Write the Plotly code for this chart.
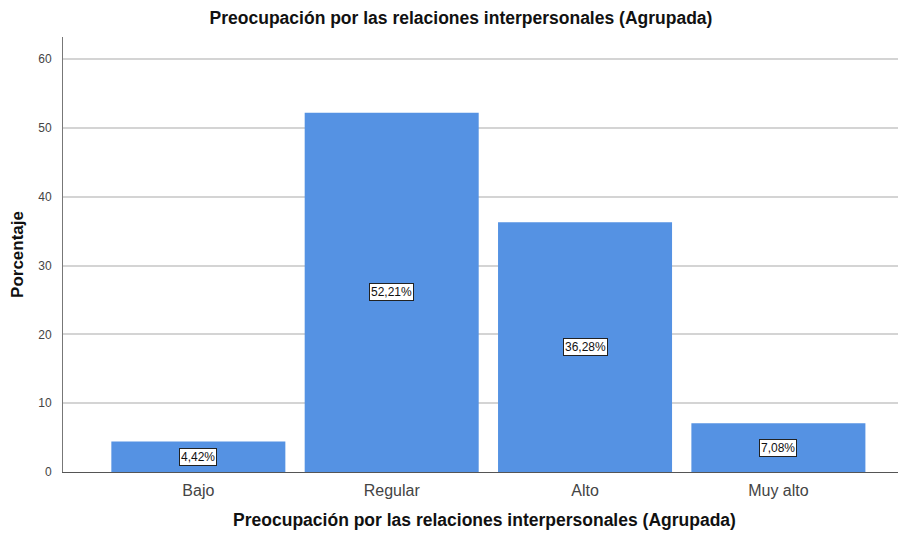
import plotly.graph_objects as go

categorias = ["Bajo", "Regular", "Alto", "Muy alto"]
porcentajes = [4.42, 52.21, 36.28, 7.08]
etiquetas = ["4,42%", "52,21%", "36,28%", "7,08%"]
ticks_y = [0, 10, 20, 30, 40, 50, 60]

FONT = "Liberation Sans, Arial, sans-serif"

fig = go.Figure()
fig.add_trace(go.Bar(
    x=list(range(len(categorias))),
    y=porcentajes,
    width=0.9,
    marker=dict(color="#5592E3", line=dict(width=0)),
    hoverinfo="skip",
))

# etiquetas en el centro de cada barra
for i, (v, t) in enumerate(zip(porcentajes, etiquetas)):
    fig.add_annotation(
        x=i, y=v / 2, text=t, showarrow=False,
        font=dict(family=FONT, size=12, color="#111"),
        bgcolor="white", bordercolor="#222", borderwidth=1, borderpad=1,
    )

fig.update_layout(
    width=906, height=533,
    margin=dict(l=50, r=8, t=29, b=69),
    plot_bgcolor="white", paper_bgcolor="white",
    showlegend=False,
    title=dict(
        text="<b>Preocupación por las relaciones interpersonales (Agrupada)</b>",
        x=0.5, xanchor="center", y=0.981, yanchor="middle",
        font=dict(family=FONT, size=17.5, color="#111"),
    ),
    xaxis=dict(
        range=[-0.7, 3.66],
        tickvals=list(range(len(categorias))),
        ticktext=categorias,
        tickfont=dict(family=FONT, size=16, color="#444"),
        showgrid=False, zeroline=False,
        showline=True, linecolor="#555", linewidth=1,
        ticks="", ticklabelstandoff=4,
        title=dict(
            text="<b>Preocupación por las relaciones interpersonales (Agrupada)</b>",
            font=dict(family=FONT, size=17.5, color="#111"), standoff=15,
        ),
    ),
    yaxis=dict(
        range=[0, 63.2],
        tickvals=ticks_y,
        tickfont=dict(family=FONT, size=12, color="#444"),
        showgrid=True, gridcolor="#d4d4d4", gridwidth=2,
        zeroline=False,
        showline=True, linecolor="#777", linewidth=1,
        ticks="", ticklabelstandoff=8,
        title=dict(
            text="<b>Porcentaje</b>",
            font=dict(family=FONT, size=17, color="#111"), standoff=10,
        ),
    ),
)

fig.write_html("out.html")
